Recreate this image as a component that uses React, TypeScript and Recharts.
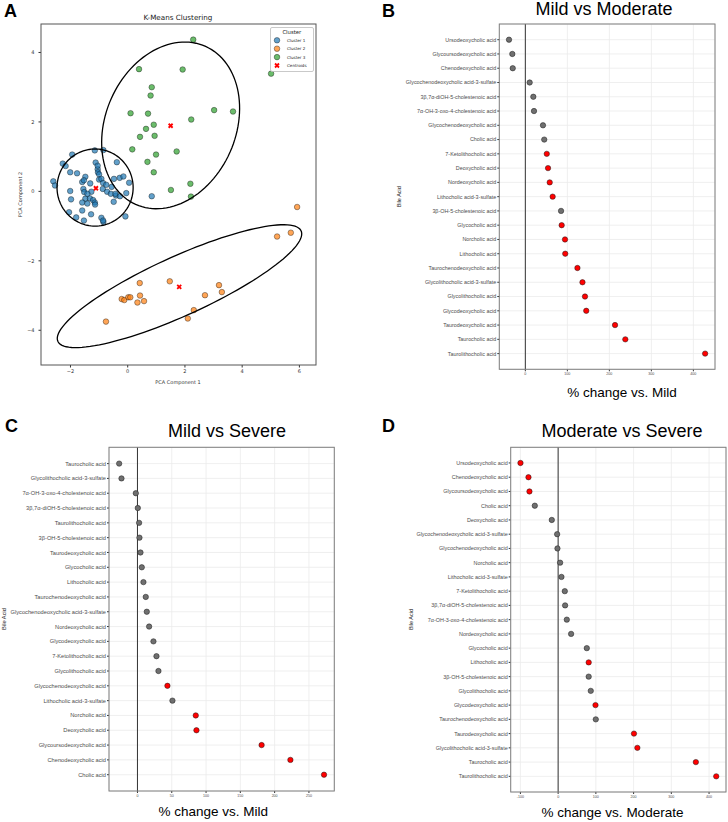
import React from "react";
import { ScatterChart, Scatter, XAxis, YAxis, CartesianGrid, ReferenceLine } from "recharts";

// ---------- Panel A: K-means clusters on PCA components ----------
const cluster1X = [-1.15, -0.85, -1.94, -2.27, -2.17, -2.01, -1.77, -1.12, -1.05, -1.04, -1.0, -0.38, -1.48, -1.59, -1.53, -1.31, -1.0, -0.92, -0.86, -0.48, -0.28, -0.15, 0.05, -2.6, -2.54, -2.01, -1.98, -1.55, -1.52, -1.48, -1.27, -1.32, -1.21, -1.15, -1.59, -1.41, -0.87, -0.72, -0.59, -0.41, -0.56, -0.75, -0.43, -0.27, -0.49, -0.05, -2.05, -1.8, -1.59, -1.53, -1.28, -0.92, -0.85, -0.86, -0.08, 0.84, -1.05, -1.41, -1.14];
const cluster1Y = [1.18, 1.19, 1.06, 0.8, 0.73, 0.55, 0.52, 0.83, 0.64, 0.55, 0.49, 0.84, 0.42, 0.27, 0.32, 0.23, 0.34, 0.36, 0.24, 0.36, 0.39, 0.43, 0.25, 0.29, 0.17, 0.01, -0.23, 0.07, -0.02, -0.21, -0.01, -0.2, -0.25, -0.32, -0.32, -0.35, 0.07, -0.01, -0.07, -0.12, 0.13, 0.19, -0.07, -0.14, -0.3, -0.05, -0.6, -0.75, -0.55, -0.84, -0.66, -0.76, -0.88, -0.84, -0.72, -0.14, 0.74, -0.07, -0.38];
const cluster2X = [5.92, 5.22, 5.7, 0.42, 1.47, 3.19, 3.29, 2.7, -0.21, -0.12, 0.02, 0.09, 0.43, 0.34, 0.57, 2.31, 2.1, -0.76];
const cluster2Y = [-0.45, -1.3, -1.19, -2.64, -2.59, -2.7, -2.9, -2.99, -3.1, -3.13, -3.05, -3.05, -3.0, -3.2, -3.16, -3.42, -3.66, -3.75];
const cluster3X = [2.29, 0.395, 1.92, 5.01, 0.84, 0.8, 0.1, 0.71, 3.02, 3.68, 2.22, 0.91, 0.64, 0.94, 0.43, 0.16, 1.71, 0.99, 0.69, 0.91, 2.19, 1.51, 2.21];
const cluster3Y = [4.37, 3.52, 3.51, 3.39, 3.0, 2.76, 2.25, 2.24, 2.34, 2.3, 2.07, 1.92, 1.8, 1.6, 1.57, 1.21, 1.15, 1.06, 0.85, 0.55, 0.22, 0.04, -0.15];
const centroidX = [-1.11, 1.8, 1.5];
const centroidY = [0.09, -2.75, 1.89];

// confidence ellipses: centre, semi-axes, rotation (deg), order = cluster 1, 2, 3
const ellipseCx = [-1.14, 1.81, 1.5];
const ellipseCy = [0.11, -2.73, 1.9];
const ellipseA = [1.33, 4.54, 2.64];
const ellipseB = [1.11, 0.875, 2.145];
const ellipseAngle = [0, 20.2, 44.4];

const pcaXTicks = [-2, 0, 2, 4, 6];
const pcaYTicks = [-4, -2, 0, 2, 4];
const clusterColors = ["#1f77b4", "#ff7f0e", "#2ca02c"];
const clusterLabels = ["Cluster 1", "Cluster 2", "Cluster 3"];

// ---------- Panel B: Mild vs Moderate ----------
const bNames = ["Ursodeoxycholic acid", "Glycoursodeoxycholic acid", "Chenodeoxycholic acid", "Glycochenodeoxycholic acid-3-sulfate", "3β,7α-diOH-5-cholestenoic acid", "7α-OH-3-oxo-4-cholestenoic acid", "Glycochenodeoxycholic acid", "Cholic acid", "7-Ketolithocholic acid", "Deoxycholic acid", "Nordeoxycholic acid", "Lithocholic acid-3-sulfate", "3β-OH-5-cholestenoic acid", "Glycocholic acid", "Norcholic acid", "Lithocholic acid", "Taurochenodeoxycholic acid", "Glycolithocholic acid-3-sulfate", "Glycolithocholic acid", "Glycodeoxycholic acid", "Taurodeoxycholic acid", "Taurocholic acid", "Taurolithocholic acid"];
const bValues = [-38.9, -31, -30, 10.3, 19, 20.6, 42, 45, 51, 54, 58, 65, 85, 86.5, 94.4, 95, 124, 136, 142, 145, 213.5, 238, 428];
const bSig = [0, 0, 0, 0, 0, 0, 0, 0, 1, 1, 1, 1, 0, 1, 1, 1, 1, 1, 1, 1, 1, 1, 1];
const bTicks = [0, 100, 200, 300, 400];

// ---------- Panel C: Mild vs Severe ----------
const cNames = ["Taurocholic acid", "Glycolithocholic acid-3-sulfate", "7α-OH-3-oxo-4-cholestenoic acid", "3β,7α-diOH-5-cholestenoic acid", "Taurolithocholic acid", "3β-OH-5-cholestenoic acid", "Taurodeoxycholic acid", "Glycocholic acid", "Lithocholic acid", "Taurochenodeoxycholic acid", "Glycochenodeoxycholic acid-3-sulfate", "Nordeoxycholic acid", "Glycodeoxycholic acid", "7-Ketolithocholic acid", "Glycolithocholic acid", "Glycochenodeoxycholic acid", "Lithocholic acid-3-sulfate", "Norcholic acid", "Deoxycholic acid", "Glycoursodeoxycholic acid", "Chenodeoxycholic acid", "Cholic acid"];
const cValues = [-26.7, -23.3, -2.4, 0.5, 2.4, 2.9, 4.4, 6.3, 8.7, 12.1, 13.6, 17, 23.3, 27.7, 30.6, 43.7, 51, 85, 86, 181, 223, 272];
const cSig = [0, 0, 0, 0, 0, 0, 0, 0, 0, 0, 0, 0, 0, 0, 0, 1, 0, 1, 1, 1, 1, 1];
const cTicks = [0, 50, 100, 150, 200, 250];

// ---------- Panel D: Moderate vs Severe ----------
const dNames = ["Ursodeoxycholic acid", "Chenodeoxycholic acid", "Glycoursodeoxycholic acid", "Cholic acid", "Deoxycholic acid", "Glycochenodeoxycholic acid-3-sulfate", "Glycochenodeoxycholic acid", "Norcholic acid", "Lithocholic acid-3-sulfate", "7-Ketolithocholic acid", "3β,7α-diOH-5-cholestenoic acid", "7α-OH-3-oxo-4-cholestenoic acid", "Nordeoxycholic acid", "Glycocholic acid", "Lithocholic acid", "3β-OH-5-cholestenoic acid", "Glycolithocholic acid", "Glycodeoxycholic acid", "Taurochenodeoxycholic acid", "Taurodeoxycholic acid", "Glycolithocholic acid-3-sulfate", "Taurocholic acid", "Taurolithocholic acid"];
const dValues = [-99.8, -78.6, -76, -61.8, -16.8, -2.6, -1.8, 5.3, 8.8, 17.7, 18.5, 23, 34.4, 76, 81, 81, 86.5, 99, 99.8, 201, 210, 365, 419];
const dSig = [1, 1, 1, 0, 0, 0, 0, 0, 0, 0, 0, 0, 0, 0, 1, 0, 0, 1, 0, 1, 1, 1, 1];
const dTicks = [-100, 0, 100, 200, 300, 400];

const SANS = "'Liberation Sans', Arial, Helvetica, sans-serif";
const MPL = "'DejaVu Sans', sans-serif";

const toPoints = (xs: number[], ys: number[]) => xs.map((x, i) => ({ x, y: ys[i] }));

function ellipseOutline(i: number) {
  const th = (ellipseAngle[i] * Math.PI) / 180;
  const pts = [];
  for (let k = 0; k <= 120; k++) {
    const t = (k / 120) * Math.PI * 2;
    const ex = ellipseA[i] * Math.cos(t);
    const ey = ellipseB[i] * Math.sin(t);
    pts.push({ x: ellipseCx[i] + ex * Math.cos(th) - ey * Math.sin(th), y: ellipseCy[i] + ex * Math.sin(th) + ey * Math.cos(th) });
  }
  return pts;
}

const minusFmt = (v: number) => (v < 0 ? "\u2212" + Math.abs(v) : String(v));

const clusterDot = (color: string) => (p: any) => (
  <circle cx={p.cx} cy={p.cy} r={2.8} fill={color} fillOpacity={0.7} stroke="#000" strokeOpacity={0.6} strokeWidth={0.6} />
);
const NoShape = () => <g />;
const CentroidMark = (p: any) => {
  const s = 2;
  return (
    <path d={`M${p.cx - s},${p.cy - s}L${p.cx + s},${p.cy + s}M${p.cx - s},${p.cy + s}L${p.cx + s},${p.cy - s}`} stroke="#ff0000" strokeWidth={1.8} />
  );
};

function PcaPanel() {
  return (
    <div style={{ position: "absolute", left: 0, top: 0 }}>
      <ScatterChart width={364} height={400} margin={{ top: 24, right: 48, bottom: 15, left: 11 }}>
        <XAxis type="number" dataKey="x" domain={[-3.03, 6.58]} ticks={pcaXTicks} allowDataOverflow tickFormatter={minusFmt}
          tick={{ fontSize: 5, fill: "#333", fontFamily: MPL }} tickLine={{ stroke: "#333" }} tickSize={2.5} tickMargin={1.5} axisLine={false} height={20} />
        <YAxis type="number" dataKey="y" domain={[-5, 4.82]} ticks={pcaYTicks} allowDataOverflow tickFormatter={minusFmt}
          tick={{ fontSize: 5, fill: "#333", fontFamily: MPL }} tickLine={{ stroke: "#333" }} tickSize={2.5} tickMargin={4} axisLine={false} width={30} />
        <Scatter data={toPoints(cluster1X, cluster1Y)} shape={clusterDot(clusterColors[0])} isAnimationActive={false} />
        <Scatter data={toPoints(cluster2X, cluster2Y)} shape={clusterDot(clusterColors[1])} isAnimationActive={false} />
        <Scatter data={toPoints(cluster3X, cluster3Y)} shape={clusterDot(clusterColors[2])} isAnimationActive={false} />
        {[0, 1, 2].map((i) => (
          <Scatter key={i} data={ellipseOutline(i)} shape={NoShape} line={{ stroke: "#000", strokeWidth: 1.3 }} lineType="joint" isAnimationActive={false} />
        ))}
        <Scatter data={toPoints(centroidX, centroidY)} shape={CentroidMark} isAnimationActive={false} />
      </ScatterChart>
    </div>
  );
}

interface DotProps {
  left: number; top: number; width: number; height: number;
  box: { x0: number; x1: number; y0: number; y1: number };
  yAxisWidth: number; labelSize: number;
  names: string[]; values: number[]; sig: number[];
  domain: [number, number]; ticks: number[];
}

function DotPanel({ left, top, width, height, box, yAxisWidth, labelSize, names, values, sig, domain, ticks }: DotProps) {
  const data = names.map((n, i) => ({ value: values[i], idx: i + 1, sig: sig[i] }));
  const n = names.length;
  const idxTicks = names.map((_, i) => i + 1);
  const xAxisHeight = 10;
  const margin = {
    top: box.y0 - top,
    right: left + width - box.x1,
    bottom: top + height - box.y1 - xAxisHeight,
    left: box.x0 - left - yAxisWidth,
  };
  const NameTick = (p: any) => (
    <text x={p.x} y={p.y} dy="0.355em" textAnchor="end" fontSize={labelSize} fill="#4d4d4d" fontFamily={SANS}>
      {names[p.payload.value - 1]}
    </text>
  );
  return (
    <div style={{ position: "absolute", left, top }}>
      <ScatterChart width={width} height={height} margin={margin}>
        <CartesianGrid stroke="#ebebeb" strokeWidth={0.8} />
        <XAxis type="number" dataKey="value" domain={domain} ticks={ticks} allowDataOverflow height={xAxisHeight}
          tick={{ fontSize: 3.6, fill: "#4d4d4d", fontFamily: SANS }} tickLine={{ stroke: "#333" }} tickSize={2} tickMargin={1} axisLine={false} />
        <YAxis type="number" dataKey="idx" domain={[-0.1, n + 1.1]} ticks={idxTicks} reversed allowDataOverflow interval={0} width={yAxisWidth}
          tick={NameTick} tickLine={{ stroke: "#333" }} tickSize={2} tickMargin={1} axisLine={false} />
        <ReferenceLine x={0} stroke="#333" strokeWidth={1} />
        <Scatter data={data} isAnimationActive={false}
          shape={(p: any) => (
            <circle cx={p.cx} cy={p.cy} r={2.7} fill={p.payload.sig ? "#ff0000" : "#6f6f6f"} stroke="#1a1a1a" strokeWidth={0.5} />
          )} />
      </ScatterChart>
    </div>
  );
}

const boxA = { x0: 41, x1: 316, y0: 24, y1: 365 };
const boxB = { x0: 499.3, x1: 715, y0: 24, y1: 369.3 };
const boxC = { x0: 109, x1: 334.3, y0: 447.3, y1: 791 };
const boxD = { x0: 510.7, x1: 726, y0: 447.3, y1: 792 };

function Frame({ b, stroke }: { b: typeof boxA; stroke: string }) {
  return <rect x={b.x0} y={b.y0} width={b.x1 - b.x0} height={b.y1 - b.y0} fill="none" stroke={stroke} strokeWidth={1} />;
}

export default function App() {
  return (
    <div style={{ position: "absolute", left: 0, top: 0, width: 728, height: 822, background: "#fff", overflow: "hidden" }}>
      <PcaPanel />
      <DotPanel left={364} top={0} width={364} height={410} box={boxB} yAxisWidth={130} labelSize={5.4}
        names={bNames} values={bValues} sig={bSig} domain={[-62, 451.5]} ticks={bTicks} />
      <DotPanel left={0} top={410} width={364} height={412} box={boxC} yAxisWidth={102} labelSize={5.7}
        names={cNames} values={cValues} sig={cSig} domain={[-41.5, 287]} ticks={cTicks} />
      <DotPanel left={364} top={410} width={364} height={412} box={boxD} yAxisWidth={140} labelSize={5.45}
        names={dNames} values={dValues} sig={dSig} domain={[-125.7, 444.9]} ticks={dTicks} />

      <svg width={728} height={822} style={{ position: "absolute", left: 0, top: 0, pointerEvents: "none" }}>
        <Frame b={boxA} stroke="#555" />
        <Frame b={boxB} stroke="#7f7f7f" />
        <Frame b={boxC} stroke="#7f7f7f" />
        <Frame b={boxD} stroke="#7f7f7f" />

        {/* panel A texts */}
        <text x={4} y={17} fontFamily={SANS} fontWeight="bold" fontSize={18}>A</text>
        <text x={178} y={20.3} textAnchor="middle" fontFamily={MPL} fontSize={7.2} fill="#222">K-Means Clustering</text>
        <text x={178} y={384} textAnchor="middle" fontFamily={MPL} fontSize={5} fill="#333">PCA Component 1</text>
        <text transform="translate(22,194.5) rotate(-90)" textAnchor="middle" fontFamily={MPL} fontSize={5} fill="#333">PCA Component 2</text>

        {/* legend */}
        <rect x={270.5} y={27.5} width={43} height={44} rx={1.5} fill="#fff" fillOpacity={0.85} stroke="#bbb" strokeWidth={0.8} />
        <text x={291.8} y={33.5} textAnchor="middle" fontFamily={MPL} fontSize={5.3} fill="#222">Cluster</text>
        {clusterLabels.map((lab, i) => (
          <g key={lab}>
            <circle cx={277} cy={40.3 + i * 8.4} r={2.8} fill={clusterColors[i]} fillOpacity={0.7} stroke="#000" strokeOpacity={0.6} strokeWidth={0.6} />
            <text x={287} y={41.8 + i * 8.4} fontFamily={MPL} fontSize={4.1} fill="#222">{lab}</text>
          </g>
        ))}
        <path d="M275,63.5L279,67.5M275,67.5L279,63.5" stroke="#ff0000" strokeWidth={1.8} />
        <text x={287} y={67} fontFamily={MPL} fontSize={4.1} fill="#222">Centroids</text>

        {/* panel B texts */}
        <text x={382} y={17} fontFamily={SANS} fontWeight="bold" fontSize={18}>B</text>
        <text x={604} y={15} textAnchor="middle" fontFamily={SANS} fontSize={18}>Mild vs Moderate</text>
        <text x={622} y={396.5} textAnchor="middle" fontFamily={SANS} fontSize={13.5}>% change vs. Mild</text>
        <text transform="translate(400.8,196.7) rotate(-90)" textAnchor="middle" fontFamily={SANS} fontSize={5.5} fill="#222">Bile Acid</text>

        {/* panel C texts */}
        <text x={5} y={432} fontFamily={SANS} fontWeight="bold" fontSize={18}>C</text>
        <text x={227} y={437} textAnchor="middle" fontFamily={SANS} fontSize={18}>Mild vs Severe</text>
        <text x={213.3} y={816} textAnchor="middle" fontFamily={SANS} fontSize={13.5}>% change vs. Mild</text>
        <text transform="translate(6.2,619) rotate(-90)" textAnchor="middle" fontFamily={SANS} fontSize={5.7} fill="#222">Bile Acid</text>

        {/* panel D texts */}
        <text x={382} y={432} fontFamily={SANS} fontWeight="bold" fontSize={18}>D</text>
        <text x={622} y={437} textAnchor="middle" fontFamily={SANS} fontSize={18}>Moderate vs Severe</text>
        <text x={612.5} y={817} textAnchor="middle" fontFamily={SANS} fontSize={13.5}>% change vs. Moderate</text>
        <text transform="translate(412.5,619.5) rotate(-90)" textAnchor="middle" fontFamily={SANS} fontSize={5.5} fill="#222">Bile Acid</text>
      </svg>
    </div>
  );
}
